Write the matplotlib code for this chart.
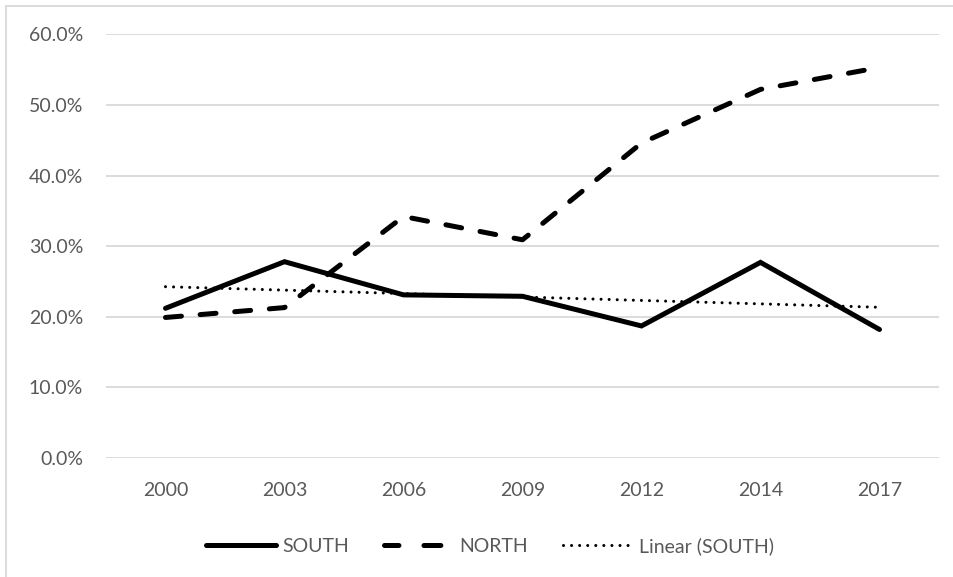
import numpy as np
import matplotlib
matplotlib.use("Agg")
import matplotlib.pyplot as plt
from matplotlib.lines import Line2D
from matplotlib.patches import Rectangle
from matplotlib.ticker import PercentFormatter

plt.rcParams['font.family'] = ['Lato', 'DejaVu Sans']
plt.rcParams['lines.scale_dashes'] = False

years = ["2000", "2003", "2006", "2009", "2012", "2014", "2017"]
south = [21.2, 27.8, 23.1, 22.9, 18.7, 27.7, 18.2]
north = [19.9, 21.3, 34.2, 30.9, 44.6, 52.2, 55.3]
y_ticks = [0, 10, 20, 30, 40, 50, 60]

W, H = 954, 577
fig = plt.figure(figsize=(W / 100, H / 100), dpi=100)
ax = fig.add_axes([106 / W, 1 - 458 / H, (939 - 106) / W, (458 - 34.3) / H])

x = np.arange(len(years))
text_col = "#595959"
grid_col = "#D9D9D9"
fs = 14

# linear trend of SOUTH across the category positions
coef = np.polyfit(x + 1, south, 1)
trend = np.polyval(coef, x + 1)

south_style = dict(color="black", lw=3.6, solid_capstyle="round", solid_joinstyle="miter")
north_style = dict(color="black", lw=3.6, dash_capstyle="round")
trend_style = dict(color="black", lw=2.2, linestyle=(0, (0.01, 5.8)), dash_capstyle="round")

ax.plot(x, south, zorder=3, **south_style)
ax.plot(x, north, linestyle=(0, (11.5, 13.5)), zorder=3, **north_style)
ax.plot(x, trend, zorder=2, **trend_style)

ax.set_xlim(-0.5, len(years) - 0.5)
ax.set_ylim(0, 60)
ax.set_yticks(y_ticks)
ax.yaxis.set_major_formatter(PercentFormatter(decimals=1))
ax.set_xticks(x)
ax.set_xticklabels(years)
ax.grid(axis="y", color=grid_col, lw=1.3)
ax.set_axisbelow(True)
for s in ax.spines.values():
    s.set_visible(False)
ax.tick_params(axis="both", length=0, labelsize=fs, labelcolor=text_col)
ax.tick_params(axis="y", pad=16.5)
ax.tick_params(axis="x", pad=17)

handles = [
    Line2D([], [], **south_style),
    Line2D([], [], linestyle=(1.8, (12.2, 18.0)), **north_style),
    Line2D([], [], **trend_style),
]
fig.legend(handles, ["SOUTH", "NORTH", "Linear (SOUTH)"], loc="center",
           bbox_to_anchor=(490 / W, 1 - 546 / H), ncol=3, frameon=False,
           fontsize=fs, handlelength=3.6, handletextpad=0.3,
           columnspacing=1.8, labelcolor=text_col)

# chart area border
fig.patches.append(Rectangle((6.5 / W, -0.1), 1.2, 1 - 5.5 / H + 0.1,
                             transform=fig.transFigure, fill=False,
                             edgecolor=grid_col, lw=1.3))

fig.savefig("out.png", dpi=100, facecolor="white")
